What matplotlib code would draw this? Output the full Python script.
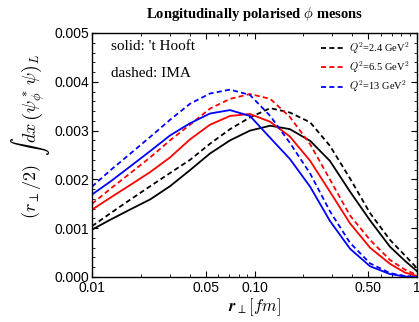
import matplotlib
matplotlib.use("Agg")
import matplotlib.pyplot as plt
from matplotlib.ticker import FixedLocator, MultipleLocator, NullFormatter, LogLocator
from matplotlib.mathtext import MathTextParser
import numpy as np

# r_perp [fm] positions
r_fm = [0.01, 0.0129, 0.0171, 0.0228, 0.0302, 0.0401, 0.0532, 0.0707, 0.0938,
        0.125, 0.165, 0.22, 0.291, 0.387, 0.514, 0.682, 0.844, 1.0]

# values in units of 1e-3
hooft_24 = [0.97, 1.17, 1.38, 1.59, 1.86, 2.19, 2.53, 2.80, 3.00,
            3.10, 3.03, 2.79, 2.38, 1.75, 1.16, 0.62, 0.33, 0.12]
ima_24 = [1.04, 1.30, 1.58, 1.86, 2.13, 2.40, 2.73, 3.03, 3.27,
          3.46, 3.37, 3.17, 2.69, 2.02, 1.31, 0.76, 0.44, 0.18]
hooft_65 = [1.38, 1.62, 1.88, 2.15, 2.45, 2.82, 3.12, 3.30, 3.34,
            3.18, 2.88, 2.38, 1.75, 1.10, 0.60, 0.27, 0.09, 0.02]
ima_65 = [1.50, 1.80, 2.12, 2.45, 2.80, 3.12, 3.45, 3.65, 3.75,
          3.65, 3.28, 2.72, 2.00, 1.26, 0.76, 0.35, 0.15, 0.04]
hooft_13 = [1.69, 1.95, 2.26, 2.58, 2.90, 3.15, 3.35, 3.42, 3.30,
            2.85, 2.42, 1.85, 1.15, 0.58, 0.22, 0.06, 0.01, 0.0]
ima_13 = [1.85, 2.18, 2.52, 2.87, 3.22, 3.55, 3.76, 3.84, 3.73,
          3.30, 2.75, 2.12, 1.35, 0.70, 0.28, 0.08, 0.02, 0.0]

labels = [r"$Q^2$=2.4 GeV$^2$", r"$Q^2$=6.5 GeV$^2$", r"$Q^2$=13 GeV$^2$"]
colors = ["black", "red", "blue"]
xticks = [0.01, 0.05, 0.10, 0.50, 1]
xticklabels = ["0.01", "0.05", "0.10", "0.50", "1"]
yticks = [0, 0.001, 0.002, 0.003, 0.004, 0.005]
yticklabels = ["0.000", "0.001", "0.002", "0.003", "0.004", "0.005"]

plt.rcParams['mathtext.fontset'] = 'cm'

# bold italic r if this mathtext knows \mathbfit
try:
    MathTextParser("agg").parse(r"$\mathbfit{r}$")
    xlab = r"$\mathbfit{r}_{\perp}[fm]$"
except Exception:
    xlab = r"$\mathbf{r}_{\perp}[fm]$"

fig = plt.figure(figsize=(4.19, 3.22), dpi=100)
ax = fig.add_axes([92 / 419, 45 / 322, 325 / 419, 244 / 322])

r = np.array(r_fm)
for hooft, ima, c, lab in zip([hooft_24, hooft_65, hooft_13], [ima_24, ima_65, ima_13],
                              colors, labels):
    ax.plot(r, np.array(hooft) * 1e-3, color=c, lw=1.3)
    ax.plot(r, np.array(ima) * 1e-3, color=c, lw=1.3, ls=(0, (2.8, 1.8)), label=lab)

ax.set_xscale("log")
ax.set_xlim(0.01, 1)
ax.set_ylim(0, 0.005)

ax.xaxis.set_major_locator(FixedLocator(xticks))
ax.set_xticklabels(xticklabels, family="Liberation Sans")
ax.xaxis.set_minor_locator(LogLocator(base=10, subs=np.arange(2, 10)))
ax.xaxis.set_minor_formatter(NullFormatter())
ax.set_yticks(yticks)
ax.set_yticklabels(yticklabels, family="Liberation Sans")
ax.yaxis.set_minor_locator(MultipleLocator(0.0002))

ax.tick_params(which="both", direction="in", top=True, right=True, labelsize=10)
ax.tick_params(which="major", length=4, width=0.8, pad=2)
ax.tick_params(axis="x", which="major", pad=3)
ax.tick_params(which="minor", length=2, width=0.6)
for s in ax.spines.values():
    s.set_linewidth(1.0)

ax.set_xlabel(xlab, fontsize=12, labelpad=1)
fig.text(30 / 419, 1 - 136 / 322,
         r"$(r_\perp/2)\;\;\int\, dx\,\left(\psi^*_\phi\,\psi\right)_L$",
         fontsize=13, rotation=90, ha="center", va="center")

ax.set_title(r"Longitudinally polarised $\phi$ mesons", fontsize=10.5, fontweight="bold",
             family="Liberation Serif", pad=11)

ax.text(0.058, 0.943, "solid: 't Hooft", transform=ax.transAxes, fontsize=11,
        family="Liberation Serif", va="center")
ax.text(0.058, 0.836, "dashed: IMA", transform=ax.transAxes, fontsize=11,
        family="Liberation Serif", va="center")

leg = ax.legend(loc="upper right", frameon=False, handlelength=2.2,
                handletextpad=0.5, labelspacing=0.35, borderaxespad=0.3,
                prop={"family": "Liberation Serif", "size": 7.5})

fig.savefig("out.png", dpi=100)
